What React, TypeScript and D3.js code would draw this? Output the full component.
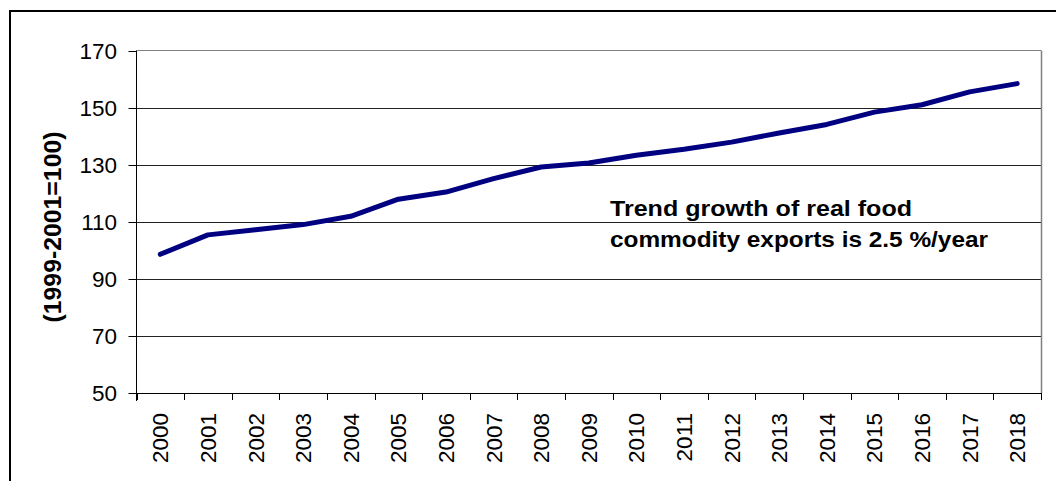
import React from "react";
import * as d3 from "d3";

const years = ["2000","2001","2002","2003","2004","2005","2006","2007","2008","2009","2010","2011","2012","2013","2014","2015","2016","2017","2018"];
const values = [98.6,105.4,107.2,109.0,111.9,117.9,120.4,125.1,129.2,130.6,133.3,135.4,137.9,141.1,144.1,148.4,151.0,155.5,158.4];
const yTicks = [50,70,90,110,130,150,170];
const yLabel = "(1999-2001=100)";
const noteLines = ["Trend growth of real food", "commodity exports is 2.5 %/year"];
const noteWidths = [302, 378];

const W = 1056, H = 481;
const left = 136.5, right = 1041, top = 50.5, bottom = 393;

export default function App() {
  const x = d3.scaleBand().domain(years).range([left, right]).padding(0);
  const y = d3.scaleLinear().domain([50, 170]).range([bottom, top]);
  const line = d3.line<number>().x((_, i) => x(years[i])! + x.bandwidth() / 2).y(d => y(d));
  const font = "'Liberation Sans', Arial, sans-serif";
  const boundaries = years.map((_, i) => left + i * x.bandwidth()).concat([right]);
  return (
    <svg width={W} height={H} style={{ position: "absolute", left: 0, top: 0 }} fontFamily={font}>
      <rect x={0} y={0} width={W} height={H} fill="#fff" />
      {/* outer frame */}
      <line x1={10} y1={11} x2={W + 5} y2={11} stroke="#000" strokeWidth={2} />
      <line x1={10} y1={10} x2={10} y2={H + 5} stroke="#000" strokeWidth={2} />
      {/* gridlines */}
      {yTicks.filter(t => t !== 50 && t !== 170).map(t => (
        <line key={t} x1={left} x2={right} y1={Math.round(y(t)) + 0.5} y2={Math.round(y(t)) + 0.5} stroke="#222" strokeWidth={1} />
      ))}
      {/* plot border top/right */}
      <line x1={left} x2={right} y1={top} y2={top} stroke="#808080" strokeWidth={1} />
      <line x1={right + 0.5} x2={right + 0.5} y1={top} y2={bottom} stroke="#808080" strokeWidth={1.5} />
      {/* axes */}
      <line x1={left} x2={left} y1={top} y2={bottom + 8} stroke="#000" strokeWidth={1} />
      <line x1={left} x2={right + 1} y1={bottom + 0.5} y2={bottom + 0.5} stroke="#000" strokeWidth={1} />
      {yTicks.map(t => (
        <g key={t}>
          <line x1={left - 8} x2={left} y1={Math.round(y(t)) + 0.5} y2={Math.round(y(t)) + 0.5} stroke="#000" />
          <text x={117} y={y(t)} dy="0.36em" textAnchor="end" fontSize={22.5} fill="#000">{t}</text>
        </g>
      ))}
      {boundaries.map((b, i) => (
        <line key={i} x1={Math.round(b) + 0.5} x2={Math.round(b) + 0.5} y1={bottom} y2={bottom + 7} stroke="#000" />
      ))}
      {years.map(yr => {
        const cx = x(yr)! + x.bandwidth() / 2;
        return (
          <text key={yr} transform={`translate(${cx + 8},413) rotate(-90)`} textAnchor="end" fontSize={22.5} fill="#000">{yr}</text>
        );
      })}
      <text transform={`translate(61,227) rotate(-90)`} textAnchor="middle" fontSize={24} fontWeight="bold" fill="#000" textLength={191} lengthAdjust="spacingAndGlyphs">{yLabel}</text>
      <path d={line(values)!} fill="none" stroke="#000080" strokeWidth={5} strokeLinecap="round" strokeLinejoin="round" />
      {noteLines.map((l, i) => (
        <text key={i} x={610} y={216 + i * 30.7} fontSize={22} fontWeight="bold" fill="#000" textLength={noteWidths[i]} lengthAdjust="spacingAndGlyphs">{l}</text>
      ))}
    </svg>
  );
}
